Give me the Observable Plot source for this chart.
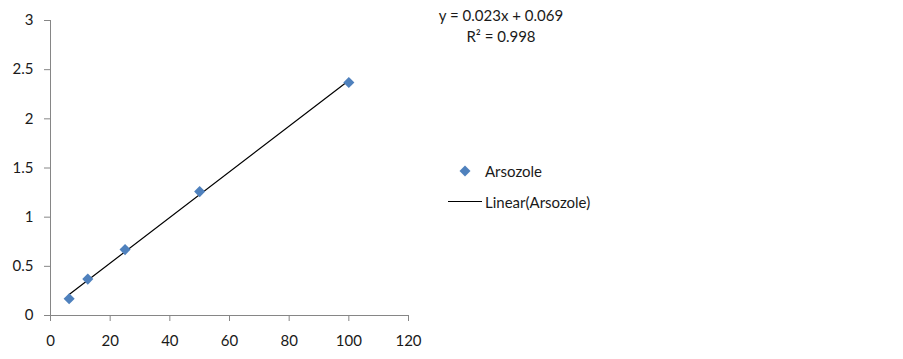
<!DOCTYPE html>
<html>
<head>
<meta charset="utf-8">
<script src="https://cdn.jsdelivr.net/npm/d3@7"></script>
<script src="https://cdn.jsdelivr.net/npm/@observablehq/plot@0.6"></script>
<style>
  body { margin: 0; background: #fff; }
  #wrap { position: relative; width: 903px; height: 359px; font-family: Lato, "Open Sans", sans-serif; color: #1a1a1a; }
  .ann { position: absolute; font-size: 15px; white-space: nowrap; line-height: 1; }
</style>
</head>
<body>
<div id="wrap"></div>
<script>
// Data
const concentration = [6.25, 12.5, 25, 50, 100];
const absorbance = [0.17, 0.37, 0.67, 1.26, 2.37];
const xTicks = [0, 20, 40, 60, 80, 100, 120];
const yTicks = [0, 0.5, 1, 1.5, 2, 2.5, 3];
const seriesName = "Arsozole";
const trendName = "Linear(Arsozole)";
const equationText = "y = 0.023x + 0.069";
const r2Text = "R\u00b2 = 0.998";

const data = concentration.map((c, i) => ({x: c, y: absorbance[i]}));
const axisColor = "#868686";
const markerColor = "#4F81BD";

const chart = Plot.plot({
  width: 903,
  height: 359,
  marginLeft: 50,
  marginRight: 495,
  marginTop: 20,
  marginBottom: 44,
  style: {fontFamily: "Lato, 'Open Sans', sans-serif", fontSize: "15px", color: "#1a1a1a", background: "#fff"},
  x: {domain: [0, 120]},
  y: {domain: [0, 3]},
  marks: [
    Plot.ruleX([0], {stroke: axisColor, strokeWidth: 1}),
    Plot.ruleY([0], {stroke: axisColor, strokeWidth: 1}),
    Plot.axisX(xTicks, {tickSize: 6, tickPadding: 14, stroke: axisColor, fill: "#1a1a1a", label: null, fontSize: 15, tickFormat: d => String(d)}),
    Plot.axisY(yTicks, {tickSize: 6, tickPadding: 11, stroke: axisColor, fill: "#1a1a1a", label: null, fontSize: 15, tickFormat: d => String(d)}),
    Plot.linearRegressionY(data, {x: "x", y: "y", ci: 0, stroke: "#000", strokeWidth: 1.2}),
    Plot.dot(data, {x: "x", y: "y", symbol: "diamond2", r: 5, fill: markerColor, stroke: "none"})
  ]
});
const wrap = document.getElementById("wrap");
wrap.appendChild(chart);

function addText(txt, left, top, anchorCenter) {
  const d = document.createElement("div");
  d.className = "ann";
  d.textContent = txt;
  d.style.left = left + "px";
  d.style.top = top + "px";
  if (anchorCenter) d.style.transform = "translate(-50%, -50%)";
  else d.style.transform = "translate(0, -50%)";
  wrap.appendChild(d);
}
addText(equationText, 501, 15, true);
addText(r2Text, 501, 36, true);

// legend
const legSvg = d3.select(wrap).append("svg")
  .attr("width", 60).attr("height", 60)
  .style("position", "absolute").style("left", "440px").style("top", "160px");
legSvg.append("path").attr("d", d3.symbol(d3.symbolDiamond2, 77)()).attr("transform", "translate(25,11)").attr("fill", markerColor);
legSvg.append("line").attr("x1", 8).attr("x2", 42).attr("y1", 41.5).attr("y2", 41.5).attr("stroke", "#000").attr("stroke-width", 1.2);
addText(seriesName, 485, 171, false);
addText(trendName, 485, 202, false);
</script>
</body>
</html>
